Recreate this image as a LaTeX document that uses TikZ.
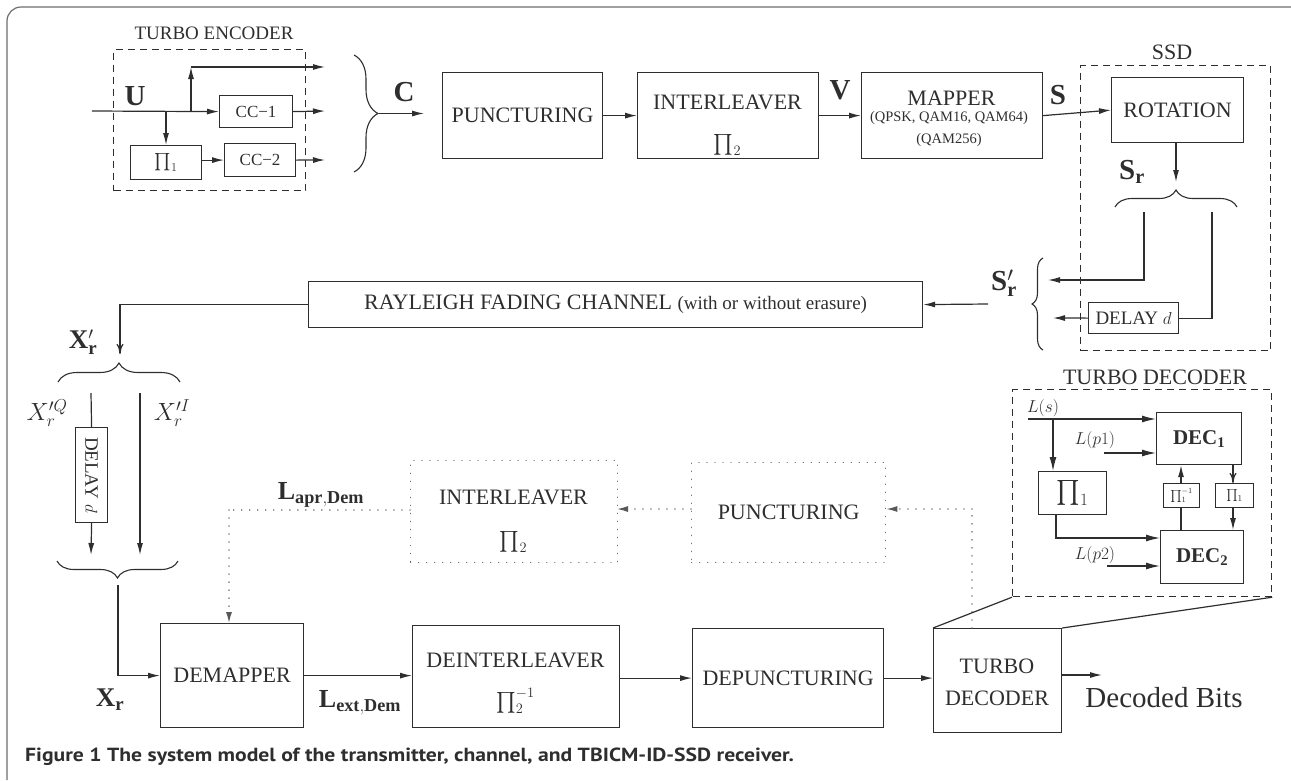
\documentclass[tikz,border=0pt]{standalone}
\usepackage{exscale}
\usepackage{fontspec}
\setmainfont{Liberation Serif}
\newfontfamily\capfont{PT Sans}
\usetikzlibrary{arrows.meta,decorations.pathreplacing,calc}
\newcommand\fsz[1]{\fontsize{#1}{#1}\selectfont}
\colorlet{ink}{black!82}
\begin{document}
\begin{tikzpicture}[x=1pt,y=-1pt,
  every node/.style={text=ink, inner sep=0pt},
  wh/.style 2 args={minimum width=#1, minimum height=#2},
  box/.style={draw=ink, line width=1.2pt, anchor=north west},
  dbox/.style={draw=ink, line width=1.2pt, anchor=north west, dash pattern=on 7pt off 5pt},
  obox/.style={draw=ink!80, line width=1.3pt, anchor=north west, dash pattern=on 0.01pt off 8pt, line cap=round},
  ln/.style={draw=ink, line width=1.2pt},
  dln/.style={draw=ink!80, line width=1.3pt, dash pattern=on 0.01pt off 8pt, line cap=round},
  arr/.style={-{Latex[length=12pt,width=6pt]}},
  sarr/.style={-{Latex[length=14pt,width=7pt]}},
  varr/.style={-{To[length=10pt,width=7pt]}},
  brc/.style={draw=ink, line width=1.1pt, decorate, decoration={brace,amplitude=#1}}
]
\useasboundingbox (0,0) rectangle (1291,780);
% frame
\draw[ink!70, line width=1.2pt, rounded corners=14pt] (7,780) -- (7,7) -- (1291,7);

% ---------- TURBO ENCODER ----------
\node (tenclbl) at (214,33) {\fsz{19}TURBO ENCODER};
\node[dbox,wh={192}{141}] (tenc) at (113,49) {};
\coordinate (uin) at (92,111);
\node[box,wh={73}{32}] (cc1) at (219,95) {\fsz{17}CC−1};
\node[box,wh={71}{34}] (pi1) at (130,145) {\fsz{18}$\prod_1$};
\node[box,wh={71}{33}] (cc2) at (224,143) {\fsz{17}CC−2};
\node (ulbl) at (135,96) {\fsz{29}$\mathbf{U}$};
\coordinate (b1) at (191,111);
\coordinate (b1t) at (191,67);
\coordinate (b2) at (166,111);
\coordinate (o1) at (325,67);
\coordinate (o2) at (325,111);
\coordinate (o3) at (325,160);
\draw[ln,arr] (uin) -- (cc1.west);
\draw[ln,arr] (b1) -- (b1t);
\draw[ln,arr] (b1t) -- (o1);
\draw[ln,arr] (b2) -- (b2 |- pi1.north);
\draw[ln,arr] (pi1.east |- cc2.west) -- (cc2.west);
\draw[ln,arr] (cc1.east) -- (o2);
\draw[ln,arr] (cc2.east) -- (o3);

% brace C
\draw[brc=24pt] (354,55) -- (354,172);
\coordinate (ctip) at (379,113.5);
\coordinate (cend) at (424,113.5);
\draw[ln,arr] (ctip) -- (cend);
\node (clbl) at (404,92) {\fsz{29}$\mathbf{C}$};

% ---------- top chain ----------
\node[box,wh={160}{86}] (punc) at (442,72) {\fsz{22}PUNCTURING};
\node[box,wh={181}{86}] (il) at (637,72) {};
\node (ilt) at (727.5,102) {\fsz{22}INTERLEAVER};
\node (ilp) at (727.5,145) {\fsz{21}$\prod_2$};
\node[box,wh={181}{86}] (map) at (861,72) {};
\node (mapt) at (951.5,98) {\fsz{22}MAPPER};
\node (mapq) at (949,118) {\fsz{14.5}(QPSK, QAM16, QAM64)};
\node (mapq2) at (949,140) {\fsz{14.5}(QAM256)};
\draw[ln,arr] (punc.east) -- (il.west);
\draw[ln,arr] (il.east) -- (map.west);
\node (vlbl) at (840,90) {\fsz{29}$\mathbf{V}$};

% ---------- SSD ----------
\node (ssdlbl) at (1172,52) {\fsz{22}SSD};
\node[dbox,wh={190}{285}] (ssd) at (1080,65) {};
\node[box,wh={132}{65}] (rot) at (1111,77) {\fsz{22}ROTATION};
\draw[ln,arr] (map.east) -- (rot.west);
\node (slbl) at (1058,95) {\fsz{29}$\mathbf{S}$};
\coordinate (srtip) at (1176,182);
\draw[ln,arr] (rot.south -| srtip) -- (srtip);
\node (srlbl) at (1132,172) {\fsz{29}$\mathbf{S}_{\mathbf{r}}$};
\draw[brc=17pt] (1115,207) -- (1237,207);
\node[box,wh={90}{31}] (dly) at (1088,302) {\fsz{19}DELAY $d$};
\coordinate (sa) at (1144,212);
\coordinate (sb) at (1212,212);
\coordinate (sat) at (1048,280);
\coordinate (sbt) at (1053,318);
\draw[ln,arr] (sa) |- (sat);
\draw[ln] (sb) |- (dly.east);
\draw[ln,arr] (dly.west) -- (sbt);
\draw[brc=11pt] (1043,350) -- (1043,258);
\node (sprlbl) at (1004,283) {\fsz{29}$\mathbf{S}'_{\mathbf{r}}$};

% ---------- channel ----------
\node[box,wh={614}{46}] (ray) at (308,281) {\fsz{22}RAYLEIGH FADING CHANNEL {\fsz{19}(with or without erasure)}};
\coordinate (chin) at (988,304);
\draw[ln,arr] (chin) -- (ray.east);
\coordinate (xr) at (120,354);
\draw[ln,varr] (ray.west) -| (xr);
\node (xprlbl) at (83,342) {\fsz{27}$\mathbf{X}'_{\mathbf{r}}$};

% ---------- receiver front ----------
\draw[brc=19pt] (58,382) -- (180,382);
\node (xqlbl) at (47,413) {\fsz{26}$X_r^{\prime Q}$};
\node (xilbl) at (172,413) {\fsz{26}$X_r^{\prime I}$};
\node[box,wh={32}{95}] (dly2) at (75,427) {};
\node[rotate=-90] (dly2t) at (dly2.center) {\fsz{19}DELAY $d$};
\coordinate (qa) at (91,393);
\coordinate (qb) at (91,555);
\coordinate (ia) at (140,393);
\coordinate (ib) at (140,555);
\draw[ln] (qa) -- (dly2.north);
\draw[ln,arr] (dly2.south) -- (qb);
\draw[ln,arr] (ia) -- (ib);
\draw[brc=17pt] (178,561) -- (57,561);
\coordinate (xa) at (118,585);
\node[box,wh={143}{104}] (dem) at (160,623) {\fsz{22}DEMAPPER};
\draw[ln,arr] (xa) |- (dem.west);
\node (xrlbl) at (110,700) {\fsz{27}$\mathbf{X}_{\mathbf{r}}$};

% ---------- feedback (dotted) ----------
\node[obox,wh={207}{102}] (il2) at (410,460) {};
\node (il2t) at (513.5,497) {\fsz{22}INTERLEAVER};
\node (il2p) at (513.5,542) {\fsz{21}$\prod_2$};
\node[obox,wh={194}{100}] (pun2) at (691,462) {\fsz{22}PUNCTURING};
\coordinate (fa) at (229,510);
\draw[dln] (il2.west |- fa) -- (fa);
\draw[dln,-{Latex[length=11pt,width=6pt]}] (fa) -- (fa |- dem.north);
\node (laprlbl) at (321,495) {\fsz{26}$\mathbf{L}_{\mathbf{apr,Dem}}$};
\coordinate (fb) at (617,509);
\draw[dln,-{Latex[length=11pt,width=6pt]}] (pun2.west |- fb) -- (fb);

% ---------- bottom chain ----------
\node[box,wh={207}{102}] (deint) at (412,625) {};
\node (deintt) at (515.5,660) {\fsz{22}DEINTERLEAVER};
\node (deintp) at (515.5,701) {\fsz{21}$\prod_2^{-1}$};
\node[box,wh={191}{99}] (depunc) at (692,628) {\fsz{22}DEPUNCTURING};
\node[box,wh={128}{104}] (td) at (933,628) {};
\node (tdt1) at (997,666) {\fsz{22}TURBO};
\node (tdt2) at (997,698) {\fsz{22}DECODER};
\draw[ln,arr] (dem.east) -- (dem.east -| deint.west);
\node (lextlbl) at (360,703) {\fsz{26}$\mathbf{L}_{\mathbf{ext,Dem}}$};
\draw[ln,arr] (deint.east |- depunc.west) -- (depunc.west);
\draw[ln,arr] (depunc.east) -- (depunc.east -| td.west);
\coordinate (tdo) at (1061,675);
\coordinate (tdoe) at (1102,675);
\draw[ln,arr] (tdo) -- (tdoe);
\node (decb) at (1164,698) {\fsz{29}Decoded Bits};
\coordinate (fc) at (972,509);
\draw[dln] (td.north -| fc) -- (fc);
\draw[dln,-{Latex[length=11pt,width=6pt]}] (fc) -- (pun2.east |- fc);

% ---------- TURBO DECODER detail ----------
\node (tdlbl) at (1155,377) {\fsz{22}TURBO DECODER};
\node[dbox,wh={259}{207}] (tdec) at (1012,389) {};
\draw[ln] (td.north west) -- (tdec.south west);
\draw[ln] (td.north east) -- (tdec.south east);
\node[box,wh={85}{52}] (dec1) at (1156,412) {\fsz{21}$\mathbf{DEC_1}$};
\node[box,wh={83}{53}] (dec2) at (1160,530) {\fsz{21}$\mathbf{DEC_2}$};
\node[box,wh={68}{43}] (pia) at (1038,471) {\fsz{24}$\prod_1$};
\node[box,wh={36}{24}] (piinv) at (1163,483) {\fsz{12}$\prod_1^{-1}$};
\node[box,wh={38}{24}] (pib) at (1215,483) {\fsz{13}$\prod_1$};
\coordinate (ls) at (1028,419);
\coordinate (lsb) at (1053,419);
\coordinate (lp1) at (1104,453);
\coordinate (pa) at (1056,514);
\coordinate (pac) at (1056,538);
\coordinate (lp2) at (1107,566);
\coordinate (ia1) at (1181,530);
\coordinate (ib1) at (1233,464);
\node (lslbl) at (1043,408) {\fsz{19}$L(s)$};
\node (lp1lbl) at (1095,440) {\fsz{19}$L(p1)$};
\node (lp2lbl) at (1095,555) {\fsz{19}$L(p2)$};
\draw[ln,sarr] (ls) -- (ls -| dec1.west);
\draw[ln,sarr] (lsb) -- (lsb |- pia.north);
\draw[ln,sarr] (lp1) -- (lp1 -| dec1.west);
\draw[ln,sarr] (pa) |- (pac -| dec2.west);
\draw[ln,sarr] (lp2) -- (lp2 -| dec2.west);
\draw[ln] (ia1) -- (ia1 |- piinv.south);
\draw[ln,arr] (ia1 |- piinv.north) -- (ia1 |- dec1.south);
\draw[ln,varr] (ib1) -- (ib1 |- pib.north);
\draw[ln,arr] (ib1 |- pib.south) -- (ib1 |- dec2.north);

% ---------- caption ----------
\node[anchor=west] (cap) at (25,757) {\scalebox{1.14}[1]{\capfont\bfseries\fsz{19}Figure 1 The system model of the transmitter, channel, and TBICM-ID-SSD receiver.}};
\end{tikzpicture}
\end{document}
